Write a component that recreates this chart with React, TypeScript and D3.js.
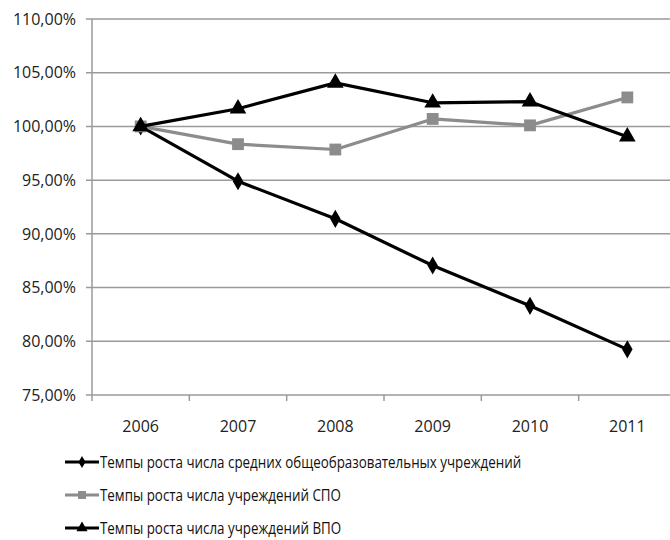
import * as React from "react";
import * as d3 from "d3";

const years = ["2006", "2007", "2008", "2009", "2010", "2011"];
const schools = [100, 94.9, 91.4, 87.05, 83.3, 79.25];
const spo = [100, 98.35, 97.85, 100.7, 100.1, 102.7];
const vpo = [100, 101.65, 104.05, 102.2, 102.3, 99.05];
const yTicks = [75, 80, 85, 90, 95, 100, 105, 110];
const seriesNames = [
  "Темпы роста числа средних общеобразовательных учреждений",
  "Темпы роста числа учреждений СПО",
  "Темпы роста числа учреждений ВПО",
];

const W = 670;
const H = 540;
const FONT = "'Open Sans', 'Liberation Sans', sans-serif";
const TEXT = "#222";

function drawChart(svgEl: SVGSVGElement) {
  const svg = d3.select(svgEl);
  svg.selectAll("*").remove();

  const margin = { left: 92, right: -6, top: 19, bottom: 145 };
  const x = d3
    .scaleBand()
    .domain(years)
    .range([margin.left, W - margin.right]);
  const y = d3
    .scaleLinear()
    .domain([75, 110])
    .range([H - margin.bottom, margin.top]);

  const fmt = (v: number) => v.toFixed(2).replace(".", ",") + "%";

  // gridlines
  svg
    .append("g")
    .selectAll("line")
    .data(yTicks)
    .join("line")
    .attr("x1", margin.left - 6)
    .attr("x2", W)
    .attr("y1", (d) => y(d))
    .attr("y2", (d) => y(d))
    .attr("stroke", "#9a9a9a")
    .attr("stroke-width", 1.5);

  // y axis line
  svg
    .append("line")
    .attr("x1", margin.left)
    .attr("x2", margin.left)
    .attr("y1", y(110))
    .attr("y2", y(75) + 6)
    .attr("stroke", "#9a9a9a")
    .attr("stroke-width", 1.5);

  // x ticks at band boundaries
  svg
    .append("g")
    .selectAll("line")
    .data(years.slice(1))
    .join("line")
    .attr("x1", (d) => x(d)!)
    .attr("x2", (d) => x(d)!)
    .attr("y1", y(75))
    .attr("y2", y(75) + 6)
    .attr("stroke", "#9a9a9a")
    .attr("stroke-width", 1.5);

  // y labels
  svg
    .append("g")
    .selectAll("text")
    .data(yTicks)
    .join("text")
    .attr("x", 76)
    .attr("y", (d) => y(d))
    .attr("dy", "0.36em")
    .attr("text-anchor", "end")
    .attr("font-family", FONT)
    .attr("font-size", 16)
    .attr("fill", TEXT)
    .text((d) => fmt(d));

  // x labels
  svg
    .append("g")
    .selectAll("text")
    .data(years)
    .join("text")
    .attr("x", (d) => x(d)! + x.bandwidth() / 2)
    .attr("y", y(75) + 37)
    .attr("text-anchor", "middle")
    .attr("font-family", FONT)
    .attr("font-size", 16)
    .attr("fill", TEXT)
    .text((d) => d);

  const cx = (i: number) => x(years[i])! + x.bandwidth() / 2;
  const line = d3
    .line<number>()
    .x((_, i) => cx(i))
    .y((d) => y(d));

  const series = [
    { data: schools, color: "#000", symbol: d3.symbolDiamond, size: 95 },
    { data: spo, color: "#8c8c8c", symbol: d3.symbolSquare, size: 140 },
    { data: vpo, color: "#000", symbol: d3.symbolTriangle, size: 120 },
  ];

  series.forEach((s) => {
    svg
      .append("path")
      .attr("d", line(s.data))
      .attr("fill", "none")
      .attr("stroke", s.color)
      .attr("stroke-width", 3.2)
      .attr("stroke-linejoin", "round");
    const sym = d3.symbol().type(s.symbol).size(s.size);
    svg
      .append("g")
      .selectAll("path")
      .data(s.data)
      .join("path")
      .attr("d", sym)
      .attr("transform", (d, i) => `translate(${cx(i)},${y(d)})`)
      .attr("fill", s.color);
  });

  // legend
  const legendY = [462, 495, 528];
  series.forEach((s, i) => {
    const g = svg.append("g").attr("transform", `translate(0,${legendY[i]})`);
    g.append("line")
      .attr("x1", 65)
      .attr("x2", 99)
      .attr("stroke", s.color)
      .attr("stroke-width", 3);
    g.append("path")
      .attr("d", d3.symbol().type(s.symbol).size(s.size * 0.45)())
      .attr("transform", "translate(82,0)")
      .attr("fill", s.color);
    const t = g
      .append("text")
      .attr("x", 100)
      .attr("dy", "0.35em")
      .attr("font-family", FONT)
      .attr("font-size", 16)
      .attr("fill", "#111")
      .text(seriesNames[i]);
    const node = t.node() as SVGTextElement;
    const len = node.getComputedTextLength();
    t.attr("textLength", len * 0.835).attr("lengthAdjust", "spacingAndGlyphs");
  });
}

const App: React.FunctionComponent = () => {
  const ref = React.useRef<SVGSVGElement>(null);
  React.useEffect(() => {
    if (ref.current) drawChart(ref.current);
  }, []);
  return (
    <svg
      ref={ref}
      width={W}
      height={H}
      style={{ position: "absolute", left: 0, top: 0, background: "#fff" }}
    />
  );
};

export default App;
